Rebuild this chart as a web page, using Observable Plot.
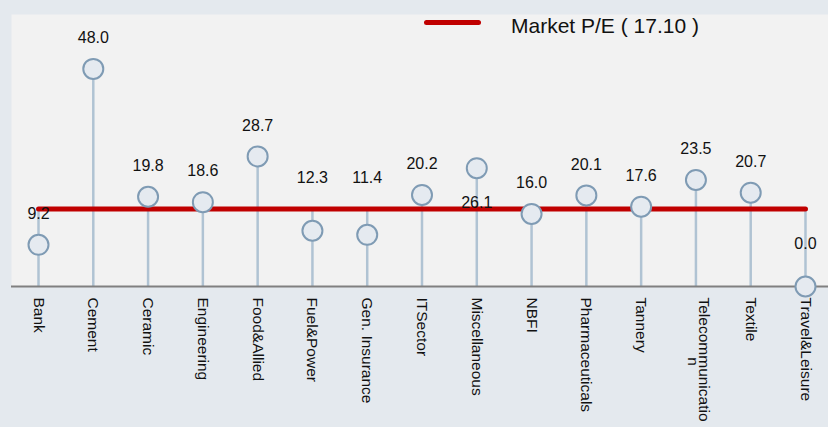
<!DOCTYPE html>
<html>
<head>
<meta charset="utf-8">
<script src="https://cdn.jsdelivr.net/npm/d3@7"></script>
<script src="https://cdn.jsdelivr.net/npm/@observablehq/plot@0.6"></script>
<style>
  html, body { margin: 0; padding: 0; background: #e4e9ee; }
  #wrap { position: relative; width: 828px; height: 427px; font-family: "Liberation Sans", Arial, Helvetica, sans-serif; }
  #legend { position: absolute; left: 424px; top: 13px; height: 26px; pointer-events: none; }
  #legend .swatch { position: absolute; left: 0; top: 6.5px; width: 57px; height: 5px; border-radius: 3px; background: #c00000; }
  #legend .label { position: absolute; left: 87px; top: 0; line-height: 26px; font-size: 21px; color: #111; white-space: nowrap; }
</style>
</head>
<body>
<div id="wrap"></div>
<script>
// ---- data ----
const categories = ["Bank", "Cement", "Ceramic", "Engineering", "Food&Allied", "Fuel&Power", "Gen. Insurance", "ITSector", "Miscellaneous", "NBFI", "Pharmaceuticals", "Tannery", "Telecommunication", "Textile", "Travel&Leisure"];
const peValues = [9.2, 48.0, 19.8, 18.6, 28.7, 12.3, 11.4, 20.2, 26.1, 16.0, 20.1, 17.6, 23.5, 20.7, 0.0];
const tickLabels = ["Bank", "Cement", "Ceramic", "Engineering", "Food&Allied", "Fuel&Power", "Gen. Insurance", "ITSector", "Miscellaneous", "NBFI", "Pharmaceuticals", "Tannery", "Telecommunicatio\nn", "Textile", "Travel&Leisure"];
const marketPE = 17.10;
const legendLabel = "Market P/E ( 17.10 )";
const labelsBelow = ["Miscellaneous", "Travel&Leisure"];
const labelsAtMarket = ["Fuel&Power", "Gen. Insurance"];

const data = categories.map((c, i) => ({category: c, value: peValues[i], label: tickLabels[i]}));
const lines = Object.fromEntries(data.map(d => [d.category, d.label.split("\n")]));
const single = categories.filter(c => lines[c].length === 1);
const wrapped = categories.filter(c => lines[c].length > 1);
const fmt = d3.format(".1f");
const stemTop = d => Math.max(d.value, marketPE);

const axisFont = 15.5;

const chart = Plot.plot({
  width: 828,
  height: 427,
  marginLeft: 11,
  marginRight: 0,
  marginTop: 14,
  marginBottom: 141,
  style: {background: "#e4e9ee", fontFamily: "'Liberation Sans', Arial, Helvetica, sans-serif", color: "#111"},
  x: {type: "point", domain: categories, padding: 0.4564, align: 0.54, round: false, axis: null, label: null},
  y: {domain: [0, 60], axis: null, label: null},
  marks: [
    Plot.frame({fill: "#f2f2f2", stroke: "none"}),
    Plot.ruleX(data, {x: "category", y1: 0, y2: stemTop, stroke: "#b0c3d3", strokeWidth: 2.5}),
    Plot.line(data, {x: "category", y: () => marketPE, stroke: "#c00000", strokeWidth: 5, strokeLinecap: "round"}),
    Plot.ruleY([0], {stroke: "#808080", strokeWidth: 2}),
    Plot.dot(data, {x: "category", y: "value", r: 10, fill: "#e5eaf0", stroke: "#7f9bb4", strokeWidth: 2}),
    // value labels
    Plot.text(data.filter(d => !labelsBelow.includes(d.category) && !labelsAtMarket.includes(d.category)),
      {x: "category", y: "value", text: d => fmt(d.value), dy: -31, fontSize: 16, fill: "#111"}),
    Plot.text(data.filter(d => labelsAtMarket.includes(d.category)),
      {x: "category", y: stemTop, text: d => fmt(d.value), dy: -31, fontSize: 16, fill: "#111"}),
    Plot.text(data.filter(d => labelsBelow.includes(d.category)),
      {x: "category", y: stemTop, text: d => fmt(d.value), dy: 35, fontSize: 16, fill: "#111"}),
    // category axis
    Plot.axisX(single, {tickSize: 0, tickPadding: 11, tickRotate: 90, fontSize: axisFont, fill: "#111", label: null, tickFormat: c => lines[c][0]}),
    Plot.axisX(wrapped, {tickSize: 0, tickPadding: 11, tickRotate: 90, fontSize: axisFont, fill: "#111", label: null, dx: axisFont / 2, tickFormat: c => lines[c][0]}),
    Plot.text(wrapped, {x: d => d, text: c => lines[c].slice(1).join("\n"), frameAnchor: "bottom", rotate: 90, textAnchor: "middle", dy: 11 + 64, dx: -axisFont / 2, fontSize: axisFont, fill: "#111"})
  ]
});

const wrap = document.getElementById("wrap");
wrap.appendChild(chart);
const legend = document.createElement("div");
legend.id = "legend";
legend.innerHTML = `<span class="swatch"></span><span class="label"></span>`;
legend.querySelector(".label").textContent = legendLabel;
wrap.appendChild(legend);
</script>
</body>
</html>
